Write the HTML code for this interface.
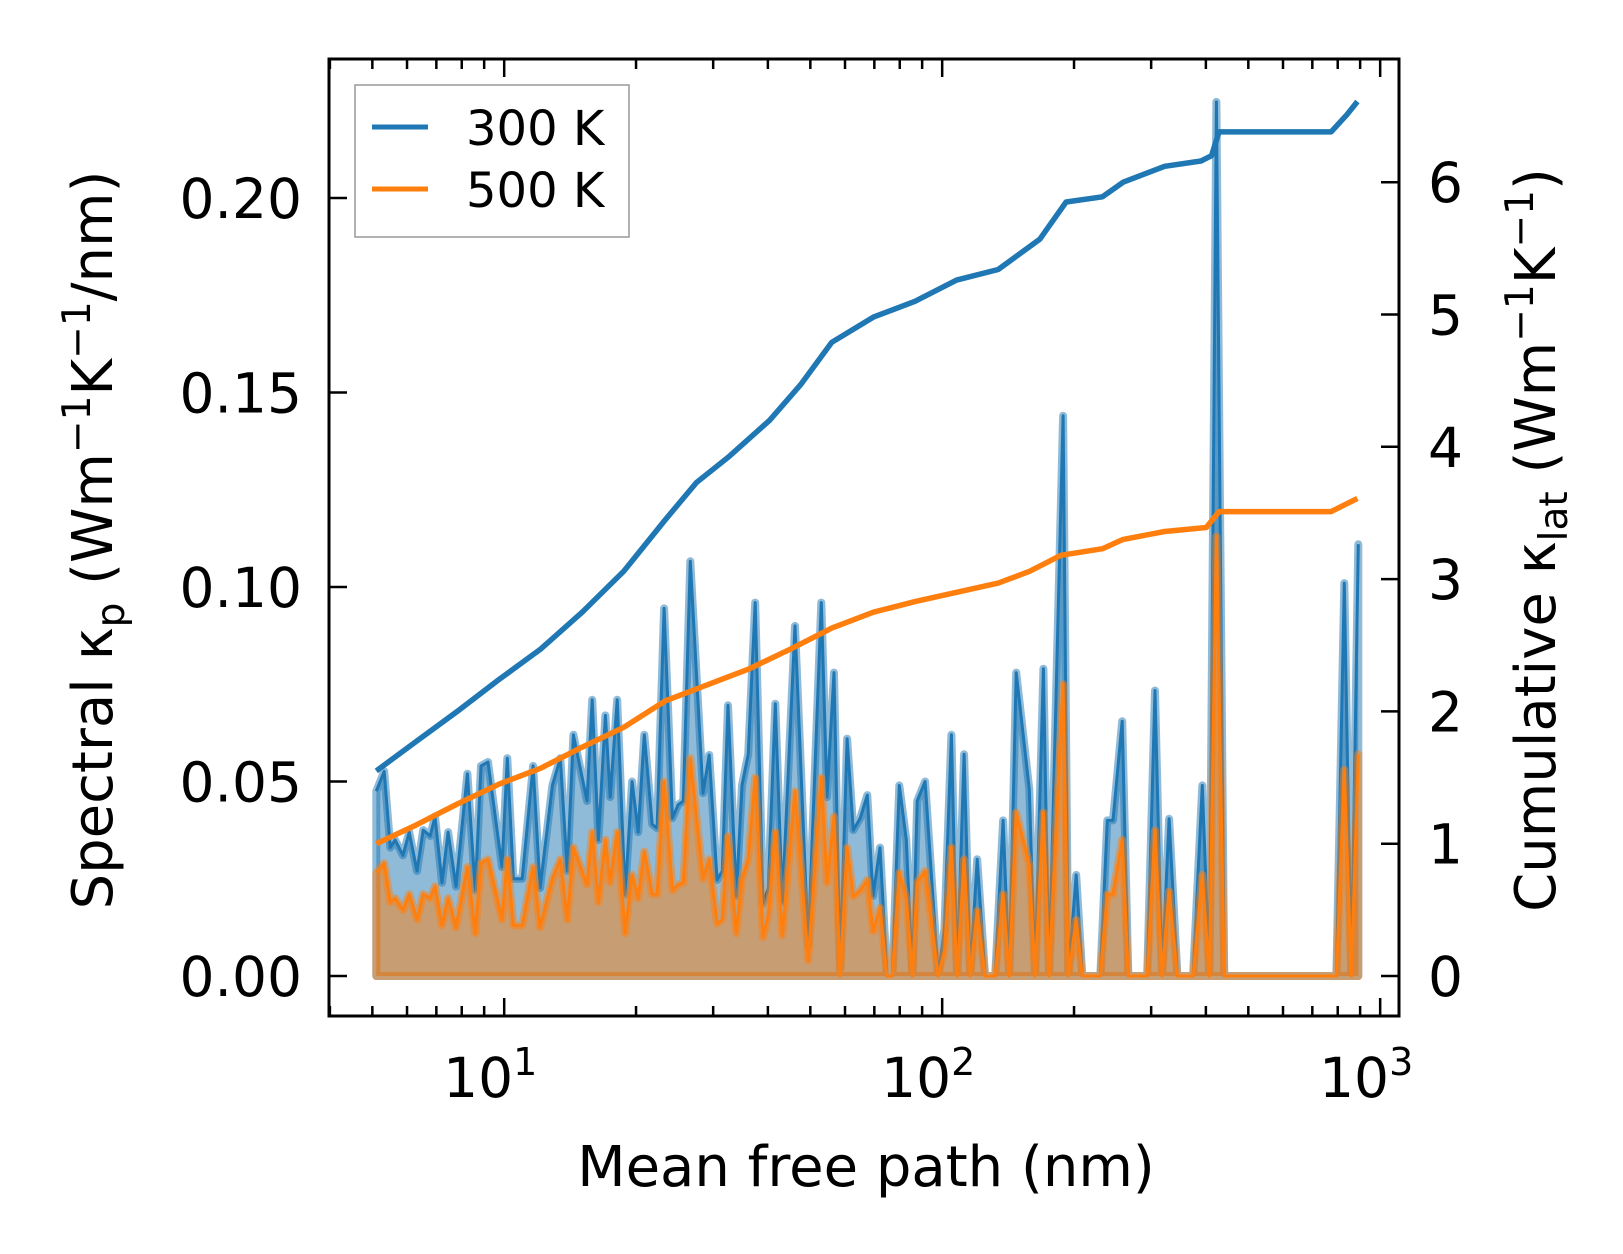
<!DOCTYPE html>
<html><head><meta charset="utf-8"><style>
html,body{margin:0;padding:0;background:#fff;}
svg{display:block;font-family:"DejaVu Sans","Liberation Sans",sans-serif;}
</style></head><body>
<svg id="chart" width="1623" height="1254" viewBox="0 0 1623 1254" xmlns="http://www.w3.org/2000/svg" style="position:absolute;left:0;top:0">
<rect width="1623" height="1254" fill="#fff"/>
<g id="plot"></g>
<g id="axes"></g>
<text x="866" y="1186" font-size="56" text-anchor="middle">Mean free path (nm)</text>
<text transform="translate(112,540) rotate(-90)" font-size="56" text-anchor="middle">Spectral κ<tspan font-size="39" dy="12">p</tspan><tspan dy="-12"> (Wm</tspan><tspan font-size="39" dy="-22">−1</tspan><tspan dy="22">K</tspan><tspan font-size="39" dy="-22">−1</tspan><tspan dy="22">/nm)</tspan></text>
<text transform="translate(1555,540) rotate(-90)" font-size="56" text-anchor="middle">Cumulative κ<tspan font-size="39" dy="12">lat</tspan><tspan dy="-12"> (Wm</tspan><tspan font-size="39" dy="-22">−1</tspan><tspan dy="22">K</tspan><tspan font-size="39" dy="-22">−1</tspan><tspan dy="22">)</tspan></text>
<g>
<rect x="355" y="85" width="274" height="152" fill="#fff" stroke="#999" stroke-width="1.5"/>
<line x1="372" y1="127" x2="428" y2="127" stroke="#1f77b4" stroke-width="5"/>
<text x="466" y="145" font-size="48">300 K</text>
<line x1="372" y1="189" x2="428" y2="189" stroke="#ff7f0e" stroke-width="5"/>
<text x="466" y="207" font-size="48">500 K</text>
</g>
</svg>
<script>
// log10 of mean free path (nm) for spectral bins
const specLogMfp = [0.708,0.726,0.740,0.751,0.769,0.783,0.801,0.815,0.831,0.842,0.858,0.872,0.890,0.916,0.934,0.947,0.963,0.995,1.007,1.021,1.041,1.066,1.082,1.110,1.128,1.144,1.158,1.189,1.201,1.215,1.231,1.242,1.258,1.276,1.292,1.306,1.320,1.338,1.349,1.365,1.384,1.397,1.409,1.425,1.454,1.468,1.486,1.498,1.511,1.530,1.543,1.557,1.573,1.591,1.603,1.619,1.635,1.664,1.694,1.724,1.737,1.753,1.767,1.783,1.797,1.813,1.829,1.842,1.858,1.874,1.886,1.902,1.918,1.932,1.943,1.961,1.991,2.005,2.021,2.034,2.050,2.064,2.080,2.098,2.121,2.139,2.153,2.169,2.199,2.212,2.231,2.244,2.276,2.288,2.306,2.320,2.361,2.377,2.390,2.411,2.425,2.468,2.486,2.502,2.518,2.537,2.573,2.594,2.610,2.626,2.644,2.900,2.918,2.934,2.950];
const spec300 = [0.0475,0.0526,0.033,0.035,0.031,0.037,0.027,0.0375,0.036,0.041,0.024,0.037,0.023,0.052,0.022,0.054,0.055,0.028,0.056,0.025,0.025,0.054,0.0226,0.049,0.056,0.027,0.062,0.045,0.071,0.035,0.067,0.046,0.071,0.021,0.050,0.037,0.062,0.039,0.038,0.0945,0.0406,0.044,0.045,0.1066,0.047,0.0568,0.0247,0.027,0.0696,0.0206,0.049,0.057,0.096,0.0187,0.0226,0.070,0.019,0.090,0.008,0.096,0.046,0.078,0.002,0.061,0.0375,0.0406,0.0465,0.0206,0.033,0,0,0.049,0.035,0,0.045,0.050,0,0.012,0.062,0,0.057,0,0.030,0,0,0.040,0,0.078,0.048,0,0.079,0,0.144,0,0.026,0,0,0.040,0.040,0.0655,0,0,0.0734,0,0.0404,0,0,0.049,0,0.2247,0,0,0.101,0,0.111];
const spec500 = [0.0265,0.029,0.019,0.020,0.017,0.021,0.0145,0.021,0.020,0.023,0.013,0.020,0.0125,0.028,0.011,0.029,0.030,0.0145,0.030,0.013,0.013,0.028,0.0125,0.025,0.030,0.0145,0.033,0.0235,0.037,0.019,0.035,0.024,0.037,0.011,0.026,0.020,0.032,0.021,0.021,0.050,0.022,0.0235,0.024,0.056,0.025,0.030,0.0135,0.0145,0.036,0.011,0.025,0.030,0.051,0.010,0.0157,0.037,0.0105,0.0475,0.004,0.051,0.024,0.041,0,0.033,0.0205,0.022,0.0247,0.0115,0.0175,0,0,0.0265,0.020,0,0.024,0.027,0,0.0064,0.033,0,0.030,0,0.0167,0,0,0.021,0,0.042,0.0285,0,0.042,0,0.075,0,0.0144,0,0,0.021,0.021,0.035,0,0,0.0374,0,0.0217,0,0,0.026,0,0.113,0,0,0.053,0,0.057];
const cumLogMfp300 = [0.708,0.798,0.893,0.988,1.083,1.178,1.273,1.368,1.439,1.511,1.606,1.677,1.748,1.843,1.938,2.033,2.128,2.223,2.283,2.366,2.413,2.508,2.591,2.615,2.632,2.888,2.924,2.948];
const cum300 = [1.55,1.77,2.00,2.24,2.47,2.75,3.06,3.45,3.73,3.92,4.20,4.47,4.79,4.98,5.10,5.26,5.34,5.57,5.85,5.89,6.00,6.12,6.16,6.20,6.38,6.38,6.51,6.61];
const cumLogMfp500 = [0.708,0.798,0.893,0.988,1.083,1.178,1.273,1.368,1.463,1.558,1.653,1.748,1.843,1.938,2.033,2.128,2.200,2.271,2.366,2.413,2.508,2.603,2.632,2.888,2.948];
const cum500 = [1.00,1.14,1.30,1.45,1.57,1.73,1.88,2.08,2.20,2.32,2.47,2.63,2.75,2.83,2.90,2.97,3.06,3.18,3.23,3.30,3.36,3.39,3.51,3.51,3.61];
const leftTicks = [0,0.05,0.10,0.15,0.20];
const leftTickLabels = ["0.00","0.05","0.10","0.15","0.20"];
const rightTicks = [0,1,2,3,4,5,6];
const xMajorExps = [1,2,3];

const NS="http://www.w3.org/2000/svg";
const L=329,R=1399,T=59,B=1016;
const xLogMin=0.600,xLogMax=3.043;
const X=v=>L+(v-xLogMin)/(xLogMax-xLogMin)*(R-L);
const YL=v=>976-v*3890;
const YR=v=>976-v*132.3;
const plot=document.getElementById('plot'), axes=document.getElementById('axes');
function mk(tag,attrs,parent){const e=document.createElementNS(NS,tag);for(const k in attrs)e.setAttribute(k,attrs[k]);parent.appendChild(e);return e;}

function spectral(vals,color,name){
  let pts=specLogMfp.map((lx,i)=>X(lx).toFixed(1)+','+YL(vals[i]).toFixed(1));
  const x0=X(specLogMfp[0]).toFixed(1), x1=X(specLogMfp[specLogMfp.length-1]).toFixed(1), y0=YL(0).toFixed(1);
  const area=mk('polygon',{points:x0+','+y0+' '+pts.join(' ')+' '+x1+','+y0,fill:color,'fill-opacity':0.5,stroke:color,'stroke-opacity':0.5,'stroke-width':8,'stroke-linejoin':'round'},plot);
  
  
  const line=mk('polyline',{points:pts.join(' '),fill:'none',stroke:color,'stroke-width':3,'stroke-linejoin':'round'},plot);
  
  
}
spectral(spec300,'#1f77b4','spectral-300k');
spectral(spec500,'#ff7f0e','spectral-500k');
function cum(lx,vals,color,name){
  const pts=lx.map((v,i)=>X(v).toFixed(1)+','+YR(vals[i]).toFixed(1));
  const l=mk('polyline',{points:pts.join(' '),fill:'none',stroke:color,'stroke-width':5.5,'stroke-linejoin':'round'},plot);
  
  
}
cum(cumLogMfp300,cum300,'#1f77b4','cumulative-300k');
cum(cumLogMfp500,cum500,'#ff7f0e','cumulative-500k');

const fr=mk('rect',{x:L,y:T,width:R-L,height:B-T,fill:'none',stroke:'#000','stroke-width':3},axes);


for(let e=0;e<=3;e++){for(let m=1;m<10;m++){const lv=e+Math.log10(m);if(lv<xLogMin||lv>xLogMax)continue;const x=X(lv);const len=m===1?18:10;
  mk('line',{x1:x,x2:x,y1:B,y2:B-len,stroke:'#000','stroke-width':2.5},axes);
  mk('line',{x1:x,x2:x,y1:T,y2:T+len,stroke:'#000','stroke-width':2.5},axes);}}
xMajorExps.forEach(e=>{const t=mk('text',{x:X(e)-14,y:1097,'font-size':55,'text-anchor':'middle'},axes);t.textContent='10';
  const s=mk('tspan',{dy:-22,'font-size':38},t);s.textContent=String(e);
  
  });
leftTicks.forEach((v,i)=>{const y=YL(v);mk('line',{x1:L,x2:L+18,y1:y,y2:y,stroke:'#000','stroke-width':2.5},axes);
  const t=mk('text',{x:302,y:y+20,'font-size':55,'text-anchor':'end'},axes);t.textContent=leftTickLabels[i];
  
  });
rightTicks.forEach(v=>{const y=YR(v);mk('line',{x1:R,x2:R-18,y1:y,y2:y,stroke:'#000','stroke-width':2.5},axes);
  const t=mk('text',{x:1428,y:y+20,'font-size':55},axes);t.textContent=String(v);
  
  });
</script>
</body></html>
